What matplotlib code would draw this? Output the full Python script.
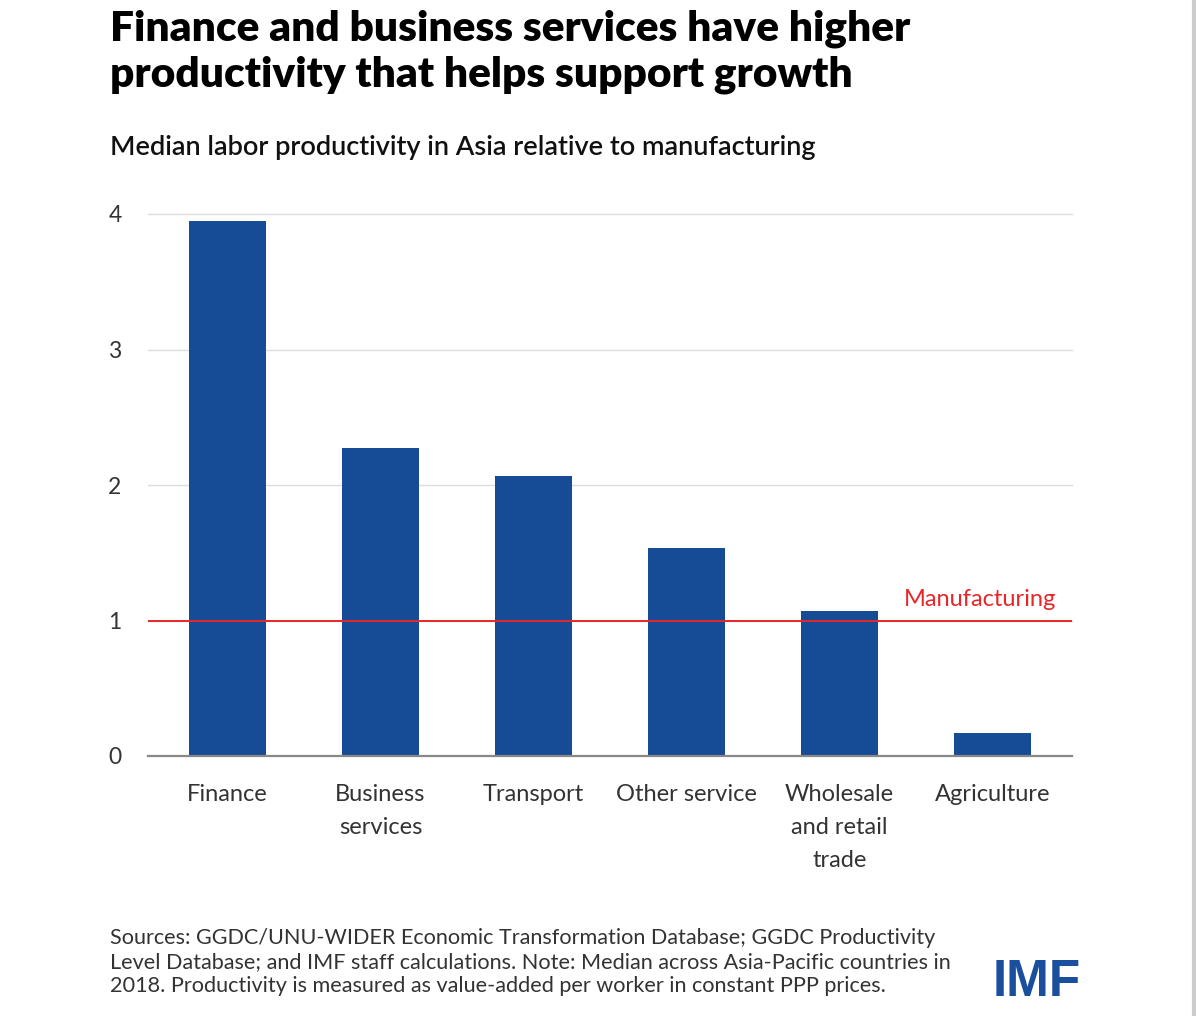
import matplotlib
matplotlib.use("Agg")
import matplotlib.pyplot as plt
from matplotlib.lines import Line2D

categories = ["Finance", "Business\nservices", "Transport", "Other service",
              "Wholesale\nand retail\ntrade", "Agriculture"]
values = [3.95, 2.27, 2.07, 1.535, 1.07, 0.17]
yticks = [0, 1, 2, 3, 4]
manufacturing_level = 1

plt.rcParams['font.family'] = ['Lato', 'DejaVu Sans']

fig = plt.figure(figsize=(11.96, 10.16), dpi=100)
ax = fig.add_axes([148/1196, 1-756/1016, (1072-148)/1196, (756-214)/1016])

x = list(range(len(categories)))
ax.bar(x, values, width=0.5, color="#164c96", zorder=3)
ax.set_xlim(-0.52, 5.52)
ax.set_ylim(0, 4)
ax.set_yticks(yticks)
ax.set_yticklabels([str(t) for t in yticks], fontsize=16.5, color="#333333")
ax.set_xticks(x)
ax.set_xticklabels(categories, fontsize=17, color="#333333", linespacing=1.72, va="top")
ax.tick_params(axis="both", length=0)
ax.tick_params(axis="y", pad=19)
ax.tick_params(axis="x", pad=20)
for s in ["top", "right", "left"]:
    ax.spines[s].set_visible(False)
ax.spines["bottom"].set_color("#888888")
ax.spines["bottom"].set_linewidth(1.6)
ax.spines["bottom"].set_zorder(4)
for t in yticks[1:]:
    ax.axhline(t, color="#dddddd", linewidth=1.0, zorder=1, clip_on=False)
ax.axhline(manufacturing_level, color="#e8262a", linewidth=1.4, zorder=5)
ax.text(5.42, manufacturing_level + 0.08, "Manufacturing", color="#e8262a",
        fontsize=17, ha="right", va="bottom")

fig.text(110/1196, 1-9/1016, "Finance and business services have higher\nproductivity that helps support growth",
         fontsize=30.5, fontweight="heavy", color="#000000", va="top", ha="left",
         linespacing=1.25)
fig.text(110/1196, 1-147/1016, "Median labor productivity in Asia relative to manufacturing",
         fontsize=19.5, fontweight="semibold", color="#111111", va="center", ha="left")
fig.text(110/1196, 1-962/1016,
         "Sources: GGDC/UNU-WIDER Economic Transformation Database; GGDC Productivity\n"
         "Level Database; and IMF staff calculations. Note: Median across Asia-Pacific countries in\n"
         "2018. Productivity is measured as value-added per worker in constant PPP prices.",
         fontsize=15.6, color="#333333", va="center", ha="left", linespacing=1.25)
fig.text(1081/1196, 1-983/1016, "IMF", fontsize=37, fontweight="bold", color="#1a4f9e",
         family=["Liberation Sans", "DejaVu Sans"], ha="right", va="center")
fig.add_artist(Line2D([1194/1196, 1194/1196], [0, 1], color="#cccccc", linewidth=3,
                      transform=fig.transFigure))

fig.savefig("out.png", dpi=100)
